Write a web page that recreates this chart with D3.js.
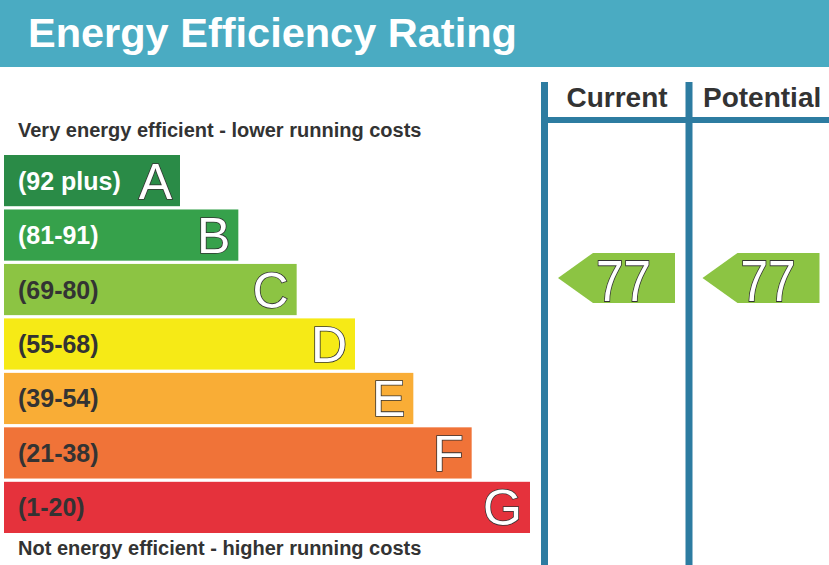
<!DOCTYPE html>
<html>
<head>
<meta charset="utf-8">
<script src="https://cdn.jsdelivr.net/npm/d3@7"></script>
<style>
  body { margin: 0; background: #fff; }
  text { font-family: "Liberation Sans", Arial, sans-serif; }
</style>
</head>
<body>
<div id="epc"></div>
<script>
// bands, best to worst
var bandLetters = ["A", "B", "C", "D", "E", "F", "G"];
var bandRanges = ["(92 plus)", "(81-91)", "(69-80)", "(55-68)", "(39-54)", "(21-38)", "(1-20)"];
var bandMin = [92, 81, 69, 55, 39, 21, 1];
var bandColors = ["#2a8b47", "#36a14b", "#8cc443", "#f6ea16", "#f9ad36", "#f07338", "#e5323c"];
var bandText = ["#fff", "#fff", "#333", "#333", "#333", "#333", "#333"];
var columns = ["Current", "Potential"];
var ratings = [77, 77];

var W = 829, H = 565;
var svg = d3.select("#epc").append("svg").attr("width", W).attr("height", H);

// header
svg.append("rect").attr("x", 0).attr("y", 0).attr("width", W).attr("height", 67).attr("fill", "#4aabc2");
svg.append("text").attr("x", 28).attr("y", 47)
    .attr("font-size", 41.5).attr("font-weight", "bold").attr("fill", "#fff")
    .text("Energy Efficiency Rating");

var y = d3.scaleBand().domain(bandLetters).range([155, 533]).paddingInner(0.06).paddingOuter(0);
var w = d3.scaleLinear().domain([0, 6]).range([176, 526]);

function bandOf(v) {
    for (var i = 0; i < bandMin.length; i++) {
        if (v >= bandMin[i]) return bandLetters[i];
    }
    return "G";
}

svg.append("text").attr("x", 18).attr("y", 137)
    .attr("font-size", 20).attr("font-weight", "bold").attr("fill", "#333")
    .text("Very energy efficient - lower running costs");
svg.append("text").attr("x", 18).attr("y", 555)
    .attr("font-size", 20).attr("font-weight", "bold").attr("fill", "#333")
    .text("Not energy efficient - higher running costs");

var bars = svg.append("g").selectAll("g").data(bandLetters).enter().append("g");
bars.append("rect")
    .attr("x", 4)
    .attr("y", function (d) { return y(d); })
    .attr("width", function (d, i) { return w(i); })
    .attr("height", y.bandwidth())
    .attr("fill", function (d, i) { return bandColors[i]; });
bars.append("text")
    .attr("x", 18)
    .attr("y", function (d) { return y(d) + y.bandwidth() / 2 + 9; })
    .attr("font-size", 25).attr("font-weight", "bold")
    .attr("fill", function (d, i) { return bandText[i]; })
    .text(function (d, i) { return bandRanges[i]; });
bars.append("text")
    .attr("x", function (d, i) { return 4 + w(i) - 8; })
    .attr("y", function (d) { return y(d) + y.bandwidth() / 2 + 18; })
    .attr("text-anchor", "end")
    .attr("font-size", 50)
    .attr("fill", "#fff").attr("stroke", "#333").attr("stroke-width", 1.6)
    .attr("paint-order", "stroke")
    .text(function (d) { return d; });

// column frame
var colX = d3.scaleOrdinal().domain(columns).range([544.5, 689]);
var lineCol = "#2d7ca1";
columns.forEach(function (c) {
    svg.append("rect").attr("x", colX(c) - 3.5).attr("y", 82).attr("width", 7).attr("height", H - 82).attr("fill", lineCol);
});
svg.append("rect").attr("x", 541).attr("y", 117).attr("width", W - 541).attr("height", 6).attr("fill", lineCol);

svg.selectAll(".colhead").data(columns).enter().append("text")
    .attr("x", function (c, i) { return i === 0 ? 617 : 703; })
    .attr("y", 107)
    .attr("text-anchor", function (c, i) { return i === 0 ? "middle" : "start"; })
    .attr("font-size", 28).attr("font-weight", "bold").attr("fill", "#333")
    .text(function (c) { return c; });

// rating arrows
var arrows = svg.selectAll(".arrow").data(ratings).enter().append("g");
arrows.append("path")
    .attr("d", function (v, i) {
        var b = bandOf(v);
        var x0 = colX(columns[i]) + 13.5, x1 = x0 + 117;
        var y0 = y(b) - 11, y1 = y0 + 50, ym = (y0 + y1) / 2;
        return "M" + x0 + "," + ym + "L" + (x0 + 35) + "," + y0 + "L" + x1 + "," + y0 +
            "L" + x1 + "," + y1 + "L" + (x0 + 35) + "," + y1 + "Z";
    })
    .attr("fill", function (v) { return bandColors[bandLetters.indexOf(bandOf(v))]; });
arrows.append("text")
    .attr("x", function (v, i) { return colX(columns[i]) + 79; })
    .attr("y", function (v) { return y(bandOf(v)) - 11 + 48; })
    .attr("text-anchor", "middle")
    .attr("font-size", 58)
    .attr("textLength", 55).attr("lengthAdjust", "spacingAndGlyphs")
    .attr("fill", "#fff").attr("stroke", "#333").attr("stroke-width", 1.8)
    .attr("paint-order", "stroke")
    .text(function (v) { return v; });
</script>
</body>
</html>
